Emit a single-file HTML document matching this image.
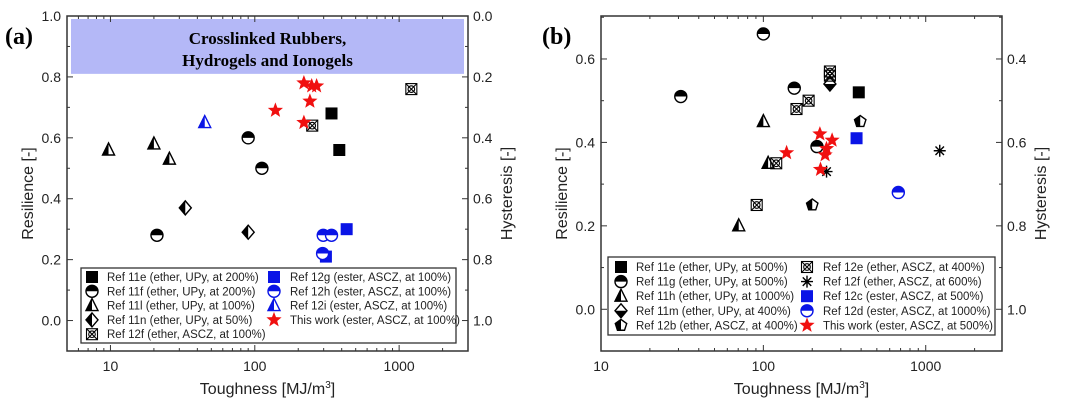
<!DOCTYPE html>
<html><head><meta charset="utf-8"><style>
html,body{margin:0;padding:0;background:#fff;width:1080px;height:410px;overflow:hidden}
svg text{font-family:"Liberation Sans",Arial,sans-serif}
</style></head><body>
<svg id="c" width="1080" height="410" viewBox="0 0 1080 410" xmlns="http://www.w3.org/2000/svg"></svg>
<script>
// ---------- Panel A data ----------
const aSeries = ['11e','11f','11l','11n','12f','12g','12h','12i','tw'];
const a11eX=[340,385], a11eY=[0.68,0.56];
const a11fX=[90,112,21], a11fY=[0.60,0.50,0.28];
const a11lX=[9.7,20,25.6], a11lY=[0.56,0.58,0.53];
const a11nX=[33,90], a11nY=[0.37,0.29];
const a12fX=[1215,250], a12fY=[0.76,0.64];
const a12gX=[433,311], a12gY=[0.30,0.21];
const a12hX=[298,340,295], a12hY=[0.28,0.28,0.22];
const a12iX=[45], a12iY=[0.65];
const aStarX=[219,248,268,241,139,219], aStarY=[0.78,0.77,0.77,0.72,0.69,0.65];
const aXTicks=[10,100,1000], aYTicks=[0.0,0.2,0.4,0.6,0.8,1.0];
const aLegend=['Ref 11e (ether, UPy, at 200%)','Ref 11f (ether, UPy, at 200%)','Ref 11l (ether, UPy, at 100%)','Ref 11n (ether, UPy, at 50%)','Ref 12f (ether, ASCZ, at 100%)','Ref 12g (ester, ASCZ, at 100%)','Ref 12h (ester, ASCZ, at 100%)','Ref 12i (ester, ASCZ, at 100%)','This work (ester, ASCZ, at 100%)'];
// ---------- Panel B data ----------
const b11eX=[387], b11eY=[0.52];
const b11gX=[100,31,155,214], b11gY=[0.66,0.51,0.53,0.39];
const b11hX=[100,70.5,107], b11hY=[0.45,0.20,0.35];
const b11mX=[257], b11mY=[0.54];
const b12bX=[395,200], b12bY=[0.45,0.25];
const b12eX=[257,257,190,160,120,91], b12eY=[0.57,0.56,0.50,0.48,0.35,0.25];
const b12fX=[1220,245], b12fY=[0.38,0.33];
const b12cX=[375], b12cY=[0.41];
const b12dX=[678], b12dY=[0.28];
const bStarX=[139,223,265,245,240,225], bStarY=[0.375,0.42,0.405,0.385,0.37,0.335];
const bXTicks=[10,100,1000], bYTicks=[0.0,0.2,0.4,0.6];
const bLegend=['Ref 11e (ether, UPy, at 500%)','Ref 11g (ether, UPy, at 500%)','Ref 11h (ether, UPy, at 1000%)','Ref 11m (ether, UPy, at 400%)','Ref 12b (ether, ASCZ, at 400%)','Ref 12e (ether, ASCZ, at 400%)','Ref 12f (ether, ASCZ, at 600%)','Ref 12c (ester, ASCZ, at 500%)','Ref 12d (ester, ASCZ, at 1000%)','This work (ester, ASCZ, at 500%)'];

const NS='http://www.w3.org/2000/svg';
const svg=document.getElementById('c');
function mk(tag,attrs,parent){const e=document.createElementNS(NS,tag);for(const k in attrs)e.setAttribute(k,attrs[k]);(parent||svg).appendChild(e);return e;}
function txt(s,attrs,parent){const e=mk('text',attrs,parent);e.textContent=s;return e;}

function marker(g,type,x,y,col){
  const s=6;
  if(type==='sq'){mk('rect',{x:x-s,y:y-s,width:2*s,height:2*s,fill:col},g);}
  else if(type==='hc'){
    mk('circle',{cx:x,cy:y,r:s,fill:'#fff',stroke:col,'stroke-width':1.4},g);
    mk('path',{d:`M${x-s},${y} A${s},${s} 0 0 1 ${x+s},${y} Z`,fill:col},g);
  }
  else if(type==='tri'){
    mk('path',{d:`M${x},${y-s-1} L${x+s},${y+s-1} L${x-s},${y+s-1} Z`,fill:'#fff',stroke:col,'stroke-width':1.4},g);
    mk('path',{d:`M${x},${y-s-1} L${x},${y+s-1} L${x-s},${y+s-1} Z`,fill:col},g);
  }
  else if(type==='dl'){
    mk('path',{d:`M${x},${y-s-1} L${x+s},${y} L${x},${y+s+1} L${x-s},${y} Z`,fill:'#fff',stroke:col,'stroke-width':1.4},g);
    mk('path',{d:`M${x},${y-s-1} L${x},${y+s+1} L${x-s},${y} Z`,fill:col},g);
  }
  else if(type==='db'){
    mk('path',{d:`M${x},${y-s-1} L${x+s},${y} L${x},${y+s+1} L${x-s},${y} Z`,fill:'#fff',stroke:col,'stroke-width':1.4},g);
    mk('path',{d:`M${x-s},${y} L${x+s},${y} L${x},${y+s+1} Z`,fill:col},g);
  }
  else if(type==='pent'){
    const p=[];for(let i=0;i<5;i++){const a=-Math.PI/2+i*2*Math.PI/5;p.push([x+s*Math.cos(a),y+s*Math.sin(a)]);}
    mk('path',{d:'M'+p.map(q=>q.join(',')).join(' L')+' Z',fill:'#fff',stroke:col,'stroke-width':1.4},g);
    mk('path',{d:`M${x},${y-s} L${p[4][0]},${p[4][1]} L${p[3][0]},${p[3][1]} L${x},${p[3][1]} Z`,fill:col},g);
  }
  else if(type==='xsq'){
    mk('rect',{x:x-s+0.5,y:y-s+0.5,width:2*s-1,height:2*s-1,fill:'none',stroke:col,'stroke-width':1.1},g);
    mk('path',{d:`M${x-s+0.5},${y-s+0.5} L${x+s-0.5},${y+s-0.5} M${x+s-0.5},${y-s+0.5} L${x-s+0.5},${y+s-0.5}`,stroke:col,'stroke-width':1.1},g);
    mk('circle',{cx:x,cy:y,r:3.3,fill:'none',stroke:col,'stroke-width':1.1},g);
  }
  else if(type==='ast'){
    let d='';for(let i=0;i<4;i++){const a=i*Math.PI/4;d+=`M${x-s*Math.cos(a)},${y-s*Math.sin(a)} L${x+s*Math.cos(a)},${y+s*Math.sin(a)} `;}
    mk('path',{d:d,stroke:col,'stroke-width':1.4},g);
  }
  else if(type==='star'){
    const R=8,r=3.4;const p=[];for(let i=0;i<10;i++){const a=-Math.PI/2+i*Math.PI/5;const rr=i%2?r:R;p.push((x+rr*Math.cos(a)).toFixed(1)+','+(y+rr*Math.sin(a)).toFixed(1));}
    mk('path',{d:'M'+p.join(' L')+' Z',fill:col},g);
  }
}

function panel(cfg){
  const {L,R,T,B,xmin,xmax,ymin,ymax}=cfg;
  const sx=v=>L+(Math.log10(v)-Math.log10(xmin))/(Math.log10(xmax)-Math.log10(xmin))*(R-L);
  const sy=v=>B-(v-ymin)/(ymax-ymin)*(B-T);
  const g=mk('g',{});
  
  
  if(cfg.band){
    const band=mk('rect',{x:L+4,y:T+3,width:R-L-8,height:sy(0.81)-T-3,fill:'#b4b8f7'},g);
    
    
    const bt=txt('',{x:(L+R)/2,y:T+28,'text-anchor':'middle','font-size':'17','font-weight':'bold',style:'font-family:"Liberation Serif",serif'},g);
    
    
    const t1=mk('tspan',{x:(L+R)/2,dy:0},bt);t1.textContent='Crosslinked Rubbers,';
    const t2=mk('tspan',{x:(L+R)/2,dy:22},bt);t2.textContent='Hydrogels and Ionogels';
  }
  const tk=mk('g',{stroke:'#333','stroke-width':1},g);
  
  
  for(let d=Math.floor(Math.log10(xmin));d<=Math.ceil(Math.log10(xmax));d++){
    for(let m=1;m<10;m++){const v=m*Math.pow(10,d);if(v<xmin||v>xmax)continue;const x=sx(v);const len=m===1?6:3;
      mk('line',{x1:x,y1:B,x2:x,y2:B-len},tk);mk('line',{x1:x,y1:T,x2:x,y2:T+len},tk);}
  }
  for(let v=Math.ceil(ymin*10)/10;v<=ymax+1e-9;v=Math.round((v+0.1)*10)/10){
    const y=sy(v);const major=Math.abs(Math.round(v*10)%2)===0;const len=major?6:3;
    mk('line',{x1:L,y1:y,x2:L+len,y2:y},tk);mk('line',{x1:R,y1:y,x2:R-len,y2:y},tk);
  }
  cfg.xt.forEach(v=>{const t=txt(String(v),{x:sx(v),y:B+20,'text-anchor':'middle','font-size':'14',fill:'#222'},g);
    });
  cfg.yt.forEach(v=>{const t=txt(v.toFixed(1),{x:L-6,y:sy(v)+5,'text-anchor':'end','font-size':'14',fill:'#222'},g);
    
    const t2=txt((1-v).toFixed(1),{x:R+5,y:sy(v)+5,'text-anchor':'start','font-size':'14',fill:'#222'},g);
    });
  const xtl=txt('',{x:(L+R)/2,y:B+43,'text-anchor':'middle','font-size':'16',fill:'#222'},g);
  
  xtl.innerHTML='Toughness [MJ/m<tspan dy="-6" font-size="10">3</tspan><tspan dy="6">]</tspan>';
  const yl=txt('Resilience [-]',{x:0,y:0,'text-anchor':'middle','font-size':'16',fill:'#222',transform:`translate(${cfg.ylx},${(T+B)/2+10}) rotate(-90)`},g);
  
  const yr=txt('Hysteresis [-]',{x:0,y:0,'text-anchor':'middle','font-size':'16',fill:'#222',transform:`translate(${cfg.yrx},${(T+B)/2+10}) rotate(-90)`},g);
  
  const pl=txt(cfg.label,{x:cfg.lx,y:44,'font-size':'24','font-weight':'bold',style:'font-family:"Liberation Serif",serif'},g);
  
  cfg.series.forEach(s=>{
    const sg=mk('g',{},g);
    
    
    s.x.forEach((xv,i)=>marker(sg,s.type,sx(xv),sy(s.y[i]),s.col));
  });
  const lg=mk('g',{},g);
  
  
  mk('rect',{x:cfg.leg.x,y:cfg.leg.y,width:cfg.leg.w,height:cfg.leg.h,fill:'#fff',stroke:'#333','stroke-width':1.3},lg);
  cfg.series.forEach((s,i)=>{
    const col=i<cfg.leg.rows?0:1;const row=col?i-cfg.leg.rows:i;
    const y=cfg.leg.ry0+row*cfg.leg.dy;
    const e=mk('g',{},lg);
    
    
    marker(e,s.type,cfg.leg.mx[col],y,s.col);
    txt(cfg.legText[i],{x:cfg.leg.tx[col],y:y+4,'font-size':'11.5',fill:'#222'},e);
  });
  const fr=mk('rect',{x:L,y:T,width:R-L,height:B-T,fill:'none',stroke:'#333','stroke-width':1.5},g);
  
}

const K='#000',BL='#0a14e6',RD='#f01010';
panel({name:'panel-a',L:67,R:468,T:16,B:351,xmin:5,xmax:3000,ymin:-0.1,ymax:1.0,xt:aXTicks,yt:aYTicks,
  band:true,ylx:33,yrx:512,label:'(a)',lx:5,legText:aLegend,
  leg:{x:81,y:268,w:375,h:75,rows:5,ry0:277,dy:14.3,mx:[92,274],tx:[107,290]},
  series:[{key:'11e',type:'sq',col:K,x:a11eX,y:a11eY},{key:'11f',type:'hc',col:K,x:a11fX,y:a11fY},
    {key:'11l',type:'tri',col:K,x:a11lX,y:a11lY},{key:'11n',type:'dl',col:K,x:a11nX,y:a11nY},
    {key:'12f',type:'xsq',col:K,x:a12fX,y:a12fY},{key:'12g',type:'sq',col:BL,x:a12gX,y:a12gY},
    {key:'12h',type:'hc',col:BL,x:a12hX,y:a12hY},{key:'12i',type:'tri',col:BL,x:a12iX,y:a12iY},
    {key:'this-work',type:'star',col:RD,x:aStarX,y:aStarY}]});
panel({name:'panel-b',L:601,R:1002,T:16,B:351,xmin:10,xmax:2950,ymin:-0.1,ymax:0.703,xt:bXTicks,yt:bYTicks,
  band:false,ylx:567,yrx:1046,label:'(b)',lx:542,legText:bLegend,
  leg:{x:608,y:257,w:387,h:78,rows:5,ry0:267,dy:14.6,mx:[621,807],tx:[636,823]},
  series:[{key:'11e',type:'sq',col:K,x:b11eX,y:b11eY},{key:'11g',type:'hc',col:K,x:b11gX,y:b11gY},
    {key:'11h',type:'tri',col:K,x:b11hX,y:b11hY},{key:'11m',type:'db',col:K,x:b11mX,y:b11mY},
    {key:'12b',type:'pent',col:K,x:b12bX,y:b12bY},{key:'12e',type:'xsq',col:K,x:b12eX,y:b12eY},
    {key:'12f',type:'ast',col:K,x:b12fX,y:b12fY},{key:'12c',type:'sq',col:BL,x:b12cX,y:b12cY},
    {key:'12d',type:'hc',col:BL,x:b12dX,y:b12dY},{key:'this-work',type:'star',col:RD,x:bStarX,y:bStarY}]});
</script>
</body></html>
